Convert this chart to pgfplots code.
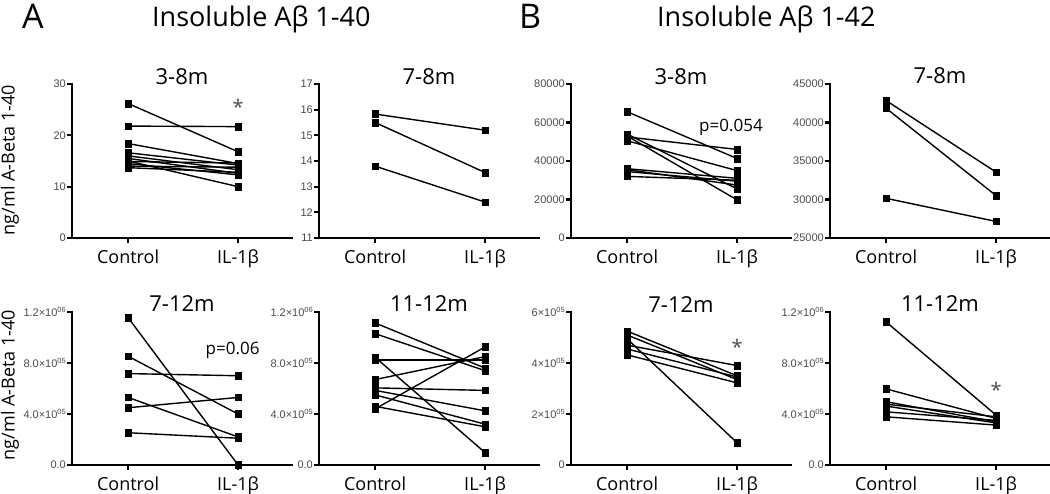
\documentclass[border=0pt]{standalone}
\usepackage{pgfplots}
\pgfplotsset{compat=1.18}
\usepackage{fontspec}
\setmainfont{Open Sans}
\newfontfamily\tickfont{Liberation Sans}
\newcommand{\tk}{\tickfont\fontsize{11}{12}\selectfont}
\newcommand{\sci}[2]{#1×10\raisebox{0.42em}{\fontsize{7.5}{8}\selectfont #2}}
\newcommand{\ttl}{\fontsize{22}{24}\selectfont}
\newcommand{\cat}{\fontsize{18}{20}\selectfont}
\pgfplotsset{
  pr/.style={black, solid, line width=1.4pt, mark=square*, mark size=3.3pt, mark options={solid, fill=black, line width=0.5pt}},
  panel/.style={
    scale only axis, width=220pt, height=154pt,
    xmin=-0.51, xmax=1.49, enlargelimits=false,
    axis x line*=bottom, axis y line*=left,
    x axis line style={-, black, line width=2.6pt},
    y axis line style={-, black, line width=2.6pt},
    xtick={0,1}, xticklabels={Control, IL-1β},
    every tick/.style={black, line width=2.2pt},
    major tick style={black, line width=2.2pt},
    tick align=outside, major tick length=5pt,
    xticklabel style={font=\cat, anchor=base, yshift=-20.5pt, inner sep=0pt},
    yticklabel style={font=\tk, text=black!70, inner sep=1pt},
    scaled y ticks=false,
    clip=false,
    execute at end axis={
      \draw[black, line width=2.6pt, line join=miter, line cap=rect] (rel axis cs:0,1) -- (rel axis cs:0,0) -- (rel axis cs:1,0);
    },
  },
  bot/.style={height=153pt},
}
\begin{document}
\begin{tikzpicture}
\useasboundingbox (0,0) rectangle (1050pt,493pt);
% header
\node[anchor=base west, inner sep=0, font=\fontsize{34}{36}\selectfont] at (22pt,464pt) {A};
\node[anchor=base west, inner sep=0, font=\fontsize{27}{29}\selectfont] at (152pt,466pt) {Insoluble Aβ 1-40};
\node[anchor=base west, inner sep=0, font=\fontsize{34}{36}\selectfont] at (519pt,464pt) {B};
\node[anchor=base west, inner sep=0, font=\fontsize{27}{29}\selectfont] at (657pt,466pt) {Insoluble Aβ 1-42};
% y labels
\node[rotate=90, font=\fontsize{18}{20}\selectfont] at (10pt,333pt) {ng/ml A-Beta 1-40};
\node[rotate=90, font=\fontsize{18}{20}\selectfont] at (10pt,108pt) {ng/ml A-Beta 1-40};

% Panel 1
\begin{axis}[panel, at={(72pt,255pt)}, anchor=south west, ymin=0, ymax=30, ytick={0,10,20,30}, yticklabels={0,10,20,30}]
\addplot[pr] coordinates {(0,26.2) (1,16.8)};
\addplot[pr] coordinates {(0,21.8) (1,21.7)};
\addplot[pr] coordinates {(0,18.4) (1,14.5)};
\addplot[pr] coordinates {(0,16.6) (1,14.2)};
\addplot[pr] coordinates {(0,16.0) (1,13.3)};
\addplot[pr] coordinates {(0,15.5) (1,12.6)};
\addplot[pr] coordinates {(0,15.0) (1,10.0)};
\addplot[pr] coordinates {(0,14.9) (1,14.6)};
\addplot[pr] coordinates {(0,14.5) (1,12.3)};
\addplot[pr] coordinates {(0,14.0) (1,13.8)};
\addplot[pr] coordinates {(0,13.7) (1,12.8)};
\node[font=\fontsize{20}{22}\selectfont, text=black!70] at (axis cs:1,25.6) {*};
\node[anchor=base, font=\ttl] at (rel axis cs:0.5,1) {3-8m};
\end{axis}

% Panel 2
\begin{axis}[panel, at={(319pt,255pt)}, anchor=south west, ymin=11, ymax=17, ytick={11,...,17}, yticklabels={11,12,13,14,15,16,17}]
\addplot[pr] coordinates {(0,15.83) (1,15.2)};
\addplot[pr] coordinates {(0,15.5) (1,13.55)};
\addplot[pr] coordinates {(0,13.8) (1,12.4)};
\node[anchor=base, font=\ttl] at (rel axis cs:0.5,1) {7-8m};
\end{axis}

% Panel 3
\begin{axis}[panel, at={(571pt,255pt)}, anchor=south west, ymin=0, ymax=80000, ytick={0,20000,40000,60000,80000}, yticklabels={0,20000,40000,60000,80000}]
\addplot[pr] coordinates {(0,65600) (1,41300)};
\addplot[pr] coordinates {(0,52500) (1,46000)};
\addplot[pr] coordinates {(0,50500) (1,35000)};
\addplot[pr] coordinates {(0,54000) (1,25500)};
\addplot[pr] coordinates {(0,53000) (1,19800)};
\addplot[pr] coordinates {(0,36000) (1,31000)};
\addplot[pr] coordinates {(0,35500) (1,27500)};
\addplot[pr] coordinates {(0,34500) (1,29500)};
\addplot[pr] coordinates {(0,32000) (1,30000)};
\node[font=\fontsize{17}{19}\selectfont] at (axis cs:0.944,57660) {p=0.054};
\node[anchor=base, font=\ttl] at (rel axis cs:0.5,1) {3-8m};
\end{axis}

% Panel 4
\begin{axis}[panel, at={(830pt,255pt)}, anchor=south west, ymin=25000, ymax=45000, ytick={25000,30000,35000,40000,45000}, yticklabels={25000,30000,35000,40000,45000}]
\addplot[pr] coordinates {(0,42850) (1,33550)};
\addplot[pr] coordinates {(0,41850) (1,30500)};
\addplot[pr] coordinates {(0,30150) (1,27150)};
\node[anchor=base, font=\ttl] at (rel axis cs:0.5,1) {7-8m};
\end{axis}

% Panel 5
\begin{axis}[panel, bot, at={(72pt,28pt)}, anchor=south west, ymin=0, ymax=1200000, ytick={0,400000,800000,1200000}, yticklabels={0.0,\sci{4.0}{05},\sci{8.0}{05},\sci{1.2}{06}}]
\addplot[pr] coordinates {(0,1156000) (1,0)};
\addplot[pr] coordinates {(0,853000) (1,400000)};
\addplot[pr] coordinates {(0,717000) (1,700000)};
\addplot[pr] coordinates {(0,530000) (1,220000)};
\addplot[pr] coordinates {(0,449000) (1,530000)};
\addplot[pr] coordinates {(0,253000) (1,210000)};
\node[font=\fontsize{17}{19}\selectfont] at (axis cs:0.95,902000) {p=0.06};
\node[anchor=base, font=\ttl] at (rel axis cs:0.5,1) {7-12m};
\end{axis}

% Panel 6
\begin{axis}[panel, bot, at={(319pt,28pt)}, anchor=south west, ymin=0, ymax=1200000, ytick={0,400000,800000,1200000}, yticklabels={0.0,\sci{4.0}{05},\sci{8.0}{05},\sci{1.2}{06}}]
\addplot[pr] coordinates {(0,1114000) (1,760000)};
\addplot[pr] coordinates {(0,1030000) (1,740000)};
\addplot[pr] coordinates {(0,825000) (1,825000)};
\addplot[pr] coordinates {(0,845000) (1,97000)};
\addplot[pr] coordinates {(0,670000) (1,850000)};
\addplot[pr] coordinates {(0,440000) (1,926000)};
\addplot[pr] coordinates {(0,605000) (1,585000)};
\addplot[pr] coordinates {(0,585000) (1,425000)};
\addplot[pr] coordinates {(0,550000) (1,320000)};
\addplot[pr] coordinates {(0,460000) (1,300000)};
\node[anchor=base, font=\ttl] at (rel axis cs:0.5,1) {11-12m};
\end{axis}

% Panel 7
\begin{axis}[panel, bot, at={(571pt,28pt)}, anchor=south west, ymin=0, ymax=600000, ytick={0,200000,400000,600000}, yticklabels={0,\sci{2}{05},\sci{4}{05},\sci{6}{05}}]
\addplot[pr] coordinates {(0,525000) (1,350000)};
\addplot[pr] coordinates {(0,510000) (1,335000)};
\addplot[pr] coordinates {(0,495000) (1,87000)};
\addplot[pr] coordinates {(0,470000) (1,390000)};
\addplot[pr] coordinates {(0,455000) (1,345000)};
\addplot[pr] coordinates {(0,432000) (1,322000)};
\node[font=\fontsize{20}{22}\selectfont, text=black!70] at (axis cs:1,462000) {*};
\node[anchor=base, font=\ttl] at (rel axis cs:0.5,1) {7-12m};
\end{axis}

% Panel 8
\begin{axis}[panel, bot, at={(830pt,28pt)}, anchor=south west, ymin=0, ymax=1200000, ytick={0,400000,800000,1200000}, yticklabels={0.0,\sci{4.0}{05},\sci{8.0}{05},\sci{1.2}{06}}]
\addplot[pr] coordinates {(0,1122000) (1,391000)};
\addplot[pr] coordinates {(0,597000) (1,365000)};
\addplot[pr] coordinates {(0,496000) (1,339000)};
\addplot[pr] coordinates {(0,477000) (1,378000)};
\addplot[pr] coordinates {(0,462000) (1,330000)};
\addplot[pr] coordinates {(0,417000) (1,350000)};
\addplot[pr] coordinates {(0,378000) (1,313000)};
\node[font=\fontsize{20}{22}\selectfont, text=black!70] at (axis cs:1,590000) {*};
\node[anchor=base, font=\ttl] at (rel axis cs:0.5,1) {11-12m};
\end{axis}
\end{tikzpicture}
\end{document}
